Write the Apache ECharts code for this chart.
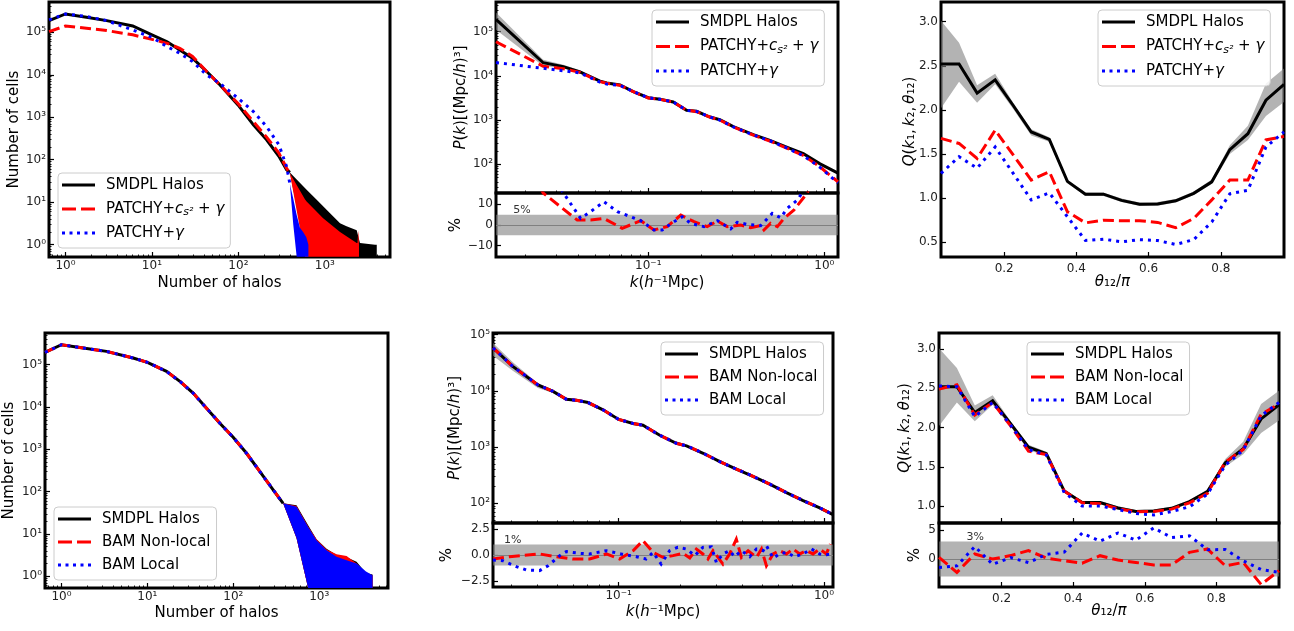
<!DOCTYPE html>
<html><head><meta charset="utf-8">
<script src="https://cdn.jsdelivr.net/npm/echarts@6/dist/echarts.min.js"></script>
<style>html,body{margin:0;padding:0;background:#fff}#c{width:1294px;height:631px}</style>
</head><body><div id="c"></div><script>
// ================= DATA =================
// --- Top-left: counts in cells (PATCHY) ---
const nHalosTL        = [0.647, 1, 1.75, 3, 6, 10, 15, 21, 29.5, 43, 61, 99, 149, 212, 294, 361, 394];
const cellsSMDPL_TL   = [1.88e5, 2.7e5, 2.25e5, 1.88e5, 1.41e5, 8.65e4, 6.0e4, 3.85e4, 2.45e4, 1.19e4, 5.8e3, 1.95e3, 660, 295, 120, 58, 50];
const cellsPatchyCs_TL= [1.04e5, 1.41e5, 1.24e5, 1.1e5, 8.7e4, 6.8e4, 5.5e4, 4.2e4, 2.7e4, 1.19e4, 5.8e3, 2.1e3, 790, 340, 143, 63, 48];
const cellsPatchy_TL  = [1.95e5, 2.7e5, 2.35e5, 1.88e5, 1.13e5, 7.6e4, 4.6e4, 3.2e4, 2.04e4, 9.9e3, 6.3e3, 2.8e3, 1.36e3, 600, 225, 69, 27];
// noisy tails (upper envelope / lower edge)
const tailN_SMDPL_TL  = [394, 615, 804, 1148, 1497, 1780, 2333, 2545, 3800, 3980];
const tailHi_SMDPL_TL = [50, 19.6, 11.4, 5.5, 3.2, 2.7, 2.2, 1.1, 1.0, 1.0];
const tailLo_SMDPL_TL = [50, 0.52, 0.52, 0.52, 0.52, 0.52, 0.52, 0.52, 0.52, 0.52];
const tailN_Cs_TL     = [394, 590, 615, 955, 1497, 2333, 2380, 2434, 2480];
const tailHi_Cs_TL    = [48, 11.5, 10.4, 4.2, 2.0, 1.1, 1.1, 2.2, 1.0];
const tailLo_Cs_TL    = [48, 0.52, 0.52, 0.52, 0.52, 0.52, 0.52, 0.52, 0.52];
const tailN_P_TL      = [394, 431, 472, 515, 560, 610, 645];
const tailHi_P_TL     = [27, 12, 5, 2.5, 2.0, 1.5, 1.0];
const tailLo_P_TL     = [27, 3, 0.52, 0.52, 0.52, 0.52, 0.52];

// --- Bottom-left: counts in cells (BAM) ---
const nHalosBL        = [0.645, 1, 1.79, 3.34, 6.83, 10, 16.7, 23.9, 34.1, 48.8, 69.7, 99.6, 142.6, 204, 291, 380];
const cellsSMDPL_BL   = [1.95e5, 2.97e5, 2.48e5, 2.07e5, 1.44e5, 1.14e5, 6.95e4, 4.03e4, 2.14e4, 9.4e3, 4.15e3, 1.93e3, 807, 297, 110, 53];
const cellsBamNL_BL   = [1.95e5, 2.97e5, 2.48e5, 2.07e5, 1.44e5, 1.14e5, 6.95e4, 4.03e4, 2.14e4, 9.4e3, 4.15e3, 1.93e3, 807, 297, 110, 53];
const cellsBamL_BL    = [1.95e5, 2.97e5, 2.48e5, 2.07e5, 1.44e5, 1.14e5, 6.95e4, 4.03e4, 2.14e4, 9.4e3, 4.15e3, 1.93e3, 807, 297, 110, 53];
const tailN_BL        = [380, 544, 743, 930, 1217, 1590, 2080, 2717, 3500, 4170];
const tailLo_BL       = [53, 8, 0.53, 0.53, 0.53, 0.53, 0.53, 0.53, 0.53, 0.53];
const tailHi_SMDPL_BL = [53, 48, 16, 7.5, 4.5, 3.2, 2.8, 2.2, 1.2, 1.1];
const tailHi_NL_BL    = [53, 46, 15, 7.5, 4.3, 3.3, 3.0, 2.0, 1.2, 1.06];
const tailHi_L_BL     = [53, 44, 14.7, 7.1, 4.1, 2.9, 2.4, 2.0, 1.3, 1.06];

// --- Top-middle: P(k) ---
const kTM            = [0.01365, 0.0253, 0.0329, 0.0409, 0.0532, 0.0581, 0.0691, 0.0822, 0.1, 0.1166, 0.1386, 0.165, 0.188, 0.224, 0.255, 0.304, 0.395, 0.491, 0.611, 0.76, 0.946, 1.196];
const pkSMDPL_TM     = [1.9e5, 1.98e4, 1.62e4, 1.23e4, 7.6e3, 6.9e3, 6.2e3, 4.4e3, 3.2e3, 2.95e3, 2.57e3, 1.66e3, 1.58e3, 1.17e3, 1.02e3, 710, 468, 347, 245, 174, 102, 63];
const pkPatchyCs_TM  = [5.9e4, 1.65e4, 1.45e4, 1.2e4, 7.4e3, 6.8e3, 6.1e3, 4.4e3, 3.15e3, 2.95e3, 2.55e3, 1.68e3, 1.55e3, 1.17e3, 1.0e3, 700, 455, 335, 232, 158, 87, 40];
const pkPatchy_TM    = [2.0e4, 1.48e4, 1.3e4, 1.17e4, 7.2e3, 6.5e3, 6.1e3, 4.4e3, 3.2e3, 2.95e3, 2.57e3, 1.66e3, 1.57e3, 1.17e3, 1.0e3, 700, 460, 340, 235, 156, 85, 38];
const kBandTM        = [0.01365, 0.0253, 0.0329, 0.0409, 0.0532, 0.0581, 0.0691];
const pkBandHi_TM    = [2.7e5, 2.3e4, 1.78e4, 1.33e4, 8.1e3, 7.3e3, 6.5e3];
const pkBandLo_TM    = [1.1e5, 1.66e4, 1.48e4, 1.13e4, 7.1e3, 6.5e3, 5.9e3];
const kResCs_TM      = [0.01365, 0.0253, 0.0395, 0.0471, 0.056, 0.0711, 0.0906, 0.1077, 0.128, 0.153, 0.182, 0.216, 0.247, 0.281, 0.335, 0.382, 0.435, 0.454, 0.495, 0.541, 0.59, 0.673, 0.80, 1.196];
const resCs_TM       = [60, 15.5, 2.4, 2.4, 3.2, -1.6, 2.1, -2.4, -0.8, 4.8, 1.6, -0.8, 1.9, -0.8, 0, -1.3, -0.3, -2.4, 0.8, -0.8, 3.2, 7.3, 15.5, 60];
const kResP_TM       = [0.01365, 0.0253, 0.0413, 0.0471, 0.056, 0.0667, 0.0794, 0.0906, 0.1077, 0.12, 0.14, 0.156, 0.174, 0.207, 0.247, 0.294, 0.32, 0.365, 0.435, 0.506, 0.565, 0.616, 0.703, 0.76, 1.196];
const resP_TM        = [100, 30, 3.2, 6.5, 11.3, 6.5, 4.0, 2.1, -2.4, -2.4, 1.6, 4.0, 0.8, -0.8, 2.1, -1.9, 1.3, 0.3, -0.3, 5.6, 3.5, 8.1, 12.1, 16.5, 60];

// --- Bottom-middle: P(k) ---
const kBM            = [0.02443, 0.0305, 0.0404, 0.0479, 0.0556, 0.0622, 0.0709, 0.0839, 0.1, 0.1175, 0.1313, 0.1585, 0.191, 0.214, 0.258, 0.311, 0.374, 0.451, 0.544, 0.656, 0.791, 0.953, 1.106];
const pkSMDPL_BM     = [5.8e4, 2.72e4, 1.28e4, 9.8e3, 7.1e3, 6.8e3, 6.2e3, 4.6e3, 3.1e3, 2.63e3, 2.45e3, 1.62e3, 1.17e3, 1.05e3, 776, 550, 407, 302, 219, 155, 112, 83, 63];
const pkBamNL_BM     = [5.8e4, 2.72e4, 1.28e4, 9.8e3, 7.1e3, 6.8e3, 6.2e3, 4.6e3, 3.1e3, 2.63e3, 2.45e3, 1.62e3, 1.17e3, 1.05e3, 776, 550, 407, 302, 219, 155, 112, 83, 63];
const pkBamL_BM      = [5.8e4, 2.72e4, 1.28e4, 9.8e3, 7.1e3, 6.8e3, 6.2e3, 4.6e3, 3.1e3, 2.63e3, 2.45e3, 1.62e3, 1.17e3, 1.05e3, 776, 550, 407, 302, 219, 155, 112, 83, 63];
const kBandBM        = [0.02443, 0.0305, 0.0404, 0.0479, 0.0556, 0.0622];
const pkBandHi_BM    = [7.1e4, 3.24e4, 1.37e4, 1.05e4, 7.5e3, 7.1e3];
const pkBandLo_BM    = [4.2e4, 2.29e4, 1.12e4, 9.2e3, 6.7e3, 6.5e3];
const kResNL_BM      = [0.02443, 0.0294, 0.0412, 0.0497, 0.0599, 0.0722, 0.0871, 0.101, 0.1175, 0.1313, 0.147, 0.164, 0.184, 0.206, 0.222, 0.239, 0.257, 0.272, 0.288, 0.322, 0.347, 0.374, 0.396, 0.427, 0.469, 0.496, 0.524, 0.565, 0.608, 0.656, 0.707, 0.762, 0.821, 0.884, 0.953, 1.026, 1.074];
const resNL_BM       = [-0.38, -0.16, 0.1, -0.16, -0.38, -0.38, 0.1, -0.38, 0.41, 1.37, 0.25, -0.22, -0.06, 0.16, -0.29, 0.57, 0.1, -0.38, 0.41, -0.86, 0.1, 1.52, -0.22, 0.41, -0.22, 0.57, -1.02, 0.1, 0.41, 0.1, 0.57, 0.1, 0.41, 0.1, 0.57, 0.1, 1.05];
const kResL_BM       = [0.0244, 0.0273, 0.0318, 0.0355, 0.0412, 0.0453, 0.0516, 0.0556, 0.0646, 0.0722, 0.0871, 0.103, 0.122, 0.136, 0.147, 0.161, 0.177, 0.194, 0.214, 0.235, 0.257, 0.283, 0.299, 0.322, 0.347, 0.367, 0.396, 0.435, 0.469, 0.505, 0.524, 0.565, 0.608, 0.656, 0.72, 0.791, 0.869, 0.953, 1.026, 1.106];
const resL_BM        = [-0.48, -0.54, -1.11, -1.43, -1.49, -1.02, -0.06, 0.32, 0.16, 0.1, 0.41, 0.1, -0.16, -0.38, 0.25, -0.86, 0.41, 0.73, 0.57, -0.06, 0.73, 0.79, -0.7, 0.1, 0.41, -0.16, 0.41, -0.16, 0.57, 0.41, 0.89, -0.29, 0.1, 0.25, -0.16, 0.1, 0.57, 0.1, 0.03, 0.1];

// --- Right column: reduced bispectrum Q ---
const theta12      = [0.025, 0.075, 0.125, 0.175, 0.225, 0.275, 0.325, 0.375, 0.425, 0.475, 0.525, 0.575, 0.625, 0.675, 0.725, 0.775, 0.825, 0.875, 0.925, 0.975];
const qSMDPL       = [2.52, 2.52, 2.19, 2.34, 2.05, 1.75, 1.665, 1.19, 1.045, 1.045, 0.975, 0.93, 0.935, 0.97, 1.055, 1.185, 1.55, 1.73, 2.11, 2.29];
const qSMDPLHi     = [3.01, 2.76, 2.28, 2.41, 2.08, 1.78, 1.69, 1.21, 1.065, 1.065, 0.995, 0.95, 0.955, 0.99, 1.075, 1.21, 1.60, 1.82, 2.30, 2.47];
const qSMDPLLo     = [2.02, 2.32, 2.08, 2.29, 2.01, 1.71, 1.64, 1.17, 1.025, 1.025, 0.955, 0.91, 0.915, 0.95, 1.035, 1.16, 1.50, 1.66, 1.93, 2.09];
const qPatchyCs    = [1.677, 1.62, 1.45, 1.77, 1.49, 1.205, 1.30, 0.846, 0.72, 0.75, 0.744, 0.744, 0.725, 0.665, 0.77, 0.98, 1.205, 1.205, 1.66, 1.70];
const qPatchy      = [1.28, 1.47, 1.34, 1.58, 1.28, 0.98, 1.06, 0.79, 0.52, 0.535, 0.505, 0.53, 0.52, 0.475, 0.53, 0.73, 1.05, 1.09, 1.58, 1.75];
const qBamNL       = [2.49, 2.545, 2.16, 2.32, 2.02, 1.70, 1.655, 1.19, 1.04, 1.03, 0.965, 0.925, 0.93, 0.96, 1.04, 1.16, 1.56, 1.72, 2.17, 2.30];
const qBamL        = [2.53, 2.52, 2.14, 2.32, 2.03, 1.72, 1.65, 1.17, 1.00, 1.00, 0.955, 0.905, 0.885, 0.93, 0.99, 1.15, 1.52, 1.71, 2.15, 2.32];
const resQBamNL    = [0.3, -2.3, 0.87, 0, 0.6, 1.45, 0.17, -0.3, -0.7, 0.58, -0.17, -0.58, -1.0, -1.0, 1.16, 1.74, -1.16, -0.58, -4.36, -2.0];
const resQBamL     = [-1.45, -1.16, 2.15, -0.9, 0.25, -0.6, 0.8, 1.2, 4.48, 3.08, 4.48, 3.25, 5.35, 3.7, 4.0, 1.6, 1.65, -0.3, -1.8, -2.3];

// --- tick values ---
const ticksCellsX = [1, 10, 100, 1000];
const ticksCellsY = [1, 10, 100, 1000, 1e4, 1e5];
const ticksKX     = [0.1, 1];
const ticksPkY    = [100, 1000, 1e4, 1e5];
const ticksThetaX = [0.2, 0.4, 0.6, 0.8];
const ticksQY_T   = [0.5, 1.0, 1.5, 2.0, 2.5, 3.0];
const ticksQY_B   = [1.0, 1.5, 2.0, 2.5, 3.0];
const ticksResTM  = [-10, 0, 10];
const ticksResBM  = [-2.5, 0, 2.5];
const ticksResBR  = [0, 5];

// ================= STYLE / HELPERS =================
const FONT = "'DejaVu Sans', sans-serif";
const BAND = 'rgba(128,128,128,0.6)';
const STY = {
  smdpl: {color: '#000000', width: 3, type: 'solid'},
  red:   {color: '#ff0000', width: 3, type: [11, 5]},
  blue:  {color: '#0000ff', width: 3, type: [3, 5]}
};
const SUP = {'-': '⁻', '0': '⁰', '1': '¹', '2': '²', '3': '³', '4': '⁴', '5': '⁵', '6': '⁶', '7': '⁷', '8': '⁸', '9': '⁹'};
function pow10Label(v) {
  const e = Math.round(Math.log10(v));
  return '10' + String(e).split('').map(c => SUP[c]).join('');
}
function minus(s) { return String(s).replace('-', '−'); }
function minorLog(min, max) {
  const out = [];
  for (let e = Math.floor(Math.log10(min)); e <= Math.ceil(Math.log10(max)); e++) {
    for (let m = 2; m <= 9; m++) { const v = m * Math.pow(10, e); if (v > min && v < max) out.push(v); }
  }
  return out;
}
const NAME_RICH = {i: {fontFamily: FONT, fontSize: 15, fontStyle: 'italic', color: '#000'}};

function axis(o) {
  const a = {
    type: o.type, gridIndex: o.grid, min: o.min, max: o.max, position: o.pos,
    axisLine: {show: false, onZero: false}, splitLine: {show: false},
    axisTick: {show: true, inside: true, length: o.tickLen || 5, customValues: o.ticks, lineStyle: {color: '#000', width: 1.2}},
    axisLabel: {show: !!o.fmt, customValues: o.ticks, formatter: o.fmt, fontFamily: FONT, fontSize: 12, color: '#222', margin: o.margin == null ? 4 : o.margin},
    nameMoveOverlap: false, silent: true
  };
  if (o.type === 'log') a.logBase = 10;
  if (o.name) {
    a.name = o.name; a.nameLocation = 'middle'; a.nameGap = o.gap;
    a.nameTextStyle = {fontFamily: FONT, fontSize: 15, color: '#000', rich: NAME_RICH};
    if (o.namePad) a.nameTextStyle.padding = o.namePad;
  }
  return a;
}
function minorAxis(type, grid, min, max, pos) {
  return {
    type: 'log', logBase: 10, gridIndex: grid, min: min, max: max, position: pos,
    axisLine: {show: false, onZero: false}, splitLine: {show: false}, axisLabel: {show: false},
    axisTick: {show: true, inside: true, length: 2.5, customValues: minorLog(min, max), lineStyle: {color: '#000', width: 0.9}},
    silent: true
  };
}
function line(name, xi, yi, xs, ys, sty, extra) {
  return Object.assign({
    type: 'line', name: name, xAxisIndex: xi, yAxisIndex: yi,
    data: xs.map((x, i) => [x, ys[i]]), symbol: 'none', showSymbol: false, smooth: false,
    lineStyle: Object.assign({cap: 'butt', join: 'miter'}, sty),
    itemStyle: {color: sty.color}, color: sty.color, z: 3, clip: true, silent: true,
    emphasis: {disabled: true}, animation: false
  }, extra || {});
}
function band(xi, yi, xs, lo, hi, color, z) {
  return {
    type: 'custom', xAxisIndex: xi, yAxisIndex: yi, z: z || 2, silent: true, animation: false,
    data: xs.map((x, i) => [x, lo[i], hi[i]]),
    encode: {x: 0, y: [1, 2]},
    renderItem: function (params, api) {
      if (params.dataIndexInside !== 0) return null;
      const n = params.dataInsideLength;
      const top = [], bot = [];
      for (let i = 0; i < n; i++) {
        const x = api.value(0, i);
        top.push(api.coord([x, api.value(2, i)]));
        bot.push(api.coord([x, api.value(1, i)]));
      }
      return {type: 'polygon', shape: {points: top.concat(bot.reverse())}, style: {fill: color}};
    }
  };
}
function resDecor(lim, labelCoord, labelText) {
  return {
    markArea: {silent: true, z: 1, itemStyle: {color: BAND}, data: [[{yAxis: -lim}, {yAxis: lim}]]},
    markLine: {silent: true, z: 2, symbol: ['none', 'none'], label: {show: false},
      lineStyle: {color: '#808080', width: 1.2, type: 'solid'}, data: [{yAxis: 0}]},
    markPoint: {silent: true, symbol: 'rect', symbolSize: [1, 1], itemStyle: {color: 'rgba(0,0,0,0)'},
      label: {show: true, position: 'inside', formatter: labelText, fontFamily: FONT, fontSize: 11, color: '#333'},
      data: [{coord: labelCoord}]}
  };
}

// icons for legend (solid / dashed / dotted samples)
const ICON_SOLID  = 'path://M0 0H33V3H0Z';
const ICON_DASHED = 'path://M0 0H14V3H0Z M19 0H33V3H19Z';
const ICON_DOTTED = 'path://M0 0H3V3H0Z M7.5 0H10.5V3H7.5Z M15 0H18V3H15Z M22.5 0H25.5V3H22.5Z M30 0H33V3H30Z';
const LEGEND_ITEMS = {
  'SMDPL Halos':   {icon: ICON_SOLID,  color: '#000000'},
  'PATCHY+cs2+γ':  {icon: ICON_DASHED, color: '#ff0000'},
  'PATCHY+γ':      {icon: ICON_DOTTED, color: '#0000ff'},
  'BAM Non-local': {icon: ICON_DASHED, color: '#ff0000'},
  'BAM Local':     {icon: ICON_DOTTED, color: '#0000ff'}
};
function legendFmt(name) {
  if (name === 'PATCHY+cs2+γ') return 'PATCHY+{i|c}{s|s²} + {i|γ}';
  if (name === 'PATCHY+γ') return 'PATCHY+{i|γ}';
  return name;
}
function legend(left, top, names, gap) {
  return {
    orient: 'vertical', left: left, top: top, selectedMode: false, z: 10,
    data: names.map(n => ({name: n, icon: LEGEND_ITEMS[n].icon, itemStyle: {color: LEGEND_ITEMS[n].color, borderWidth: 0}})),
    itemWidth: 33, itemHeight: 3, itemGap: gap,
    padding: [3, 6, 6, 4], borderColor: '#cccccc', borderWidth: 1, borderRadius: 4,
    backgroundColor: 'rgba(255,255,255,0.85)',
    itemStyle: {borderWidth: 0},
    textStyle: {fontFamily: FONT, fontSize: 15, color: '#000', lineHeight: 18, padding: [0, 0, 0, 6],
      rich: {
        i: {fontFamily: FONT, fontSize: 15, fontStyle: 'italic', color: '#000'},
        s: {fontFamily: FONT, fontSize: 11, fontStyle: 'italic', color: '#000', verticalAlign: 'bottom'}
      }},
    formatter: legendFmt
  };
}

// ================= LAYOUT =================
const G = [
  {left: 49,  top: 2,   width: 341, height: 255}, // 0 TL
  {left: 496, top: 2,   width: 342, height: 191}, // 1 TM main
  {left: 496, top: 193, width: 342, height: 64},  // 2 TM residual
  {left: 941, top: 2,   width: 343, height: 255}, // 3 TR
  {left: 45,  top: 333, width: 343, height: 255}, // 4 BL
  {left: 493, top: 333, width: 340, height: 190}, // 5 BM main
  {left: 493, top: 523, width: 340, height: 64},  // 6 BM residual
  {left: 939, top: 333, width: 340, height: 190}, // 7 BR main
  {left: 939, top: 523, width: 340, height: 64}   // 8 BR residual
].map(g => Object.assign({show: true, borderColor: '#000', borderWidth: 3, backgroundColor: 'transparent', containLabel: false, outerBoundsMode: 'none'}, g));

const R = {
  x0: [0.6457, 5662], y0: [0.513, 5.16e5],
  xk1: [0.01365, 1.196], y1: [22.4, 4.68e5], y2: [-15.5, 15.5],
  xq: [0.025, 0.975], y3: [0.333, 3.223],
  x4: [0.644, 6310], y4: [0.528, 5.62e5],
  xk2: [0.02443, 1.106], y5: [44.6, 1.07e5], y6: [-3.05, 3.05],
  y7: [0.783, 3.205], y8: [-4.8, 6.2]
};
const fix1 = v => minus(v.toFixed(1));
const fixI = v => minus(String(v));
const Q_NAME = '{i|Q}({i|k}₁,\u2009{i|k}₂,\u2009{i|θ}₁₂)';

const xAxis = [
  axis({type: 'log', grid: 0, min: R.x0[0], max: R.x0[1], pos: 'bottom', ticks: ticksCellsX, fmt: pow10Label, margin: 3, name: 'Number of halos', gap: 19}),
  axis({type: 'log', grid: 1, min: R.xk1[0], max: R.xk1[1], pos: 'bottom', ticks: ticksKX}),
  axis({type: 'log', grid: 2, min: R.xk1[0], max: R.xk1[1], pos: 'bottom', ticks: ticksKX, fmt: pow10Label, margin: 3, name: '{i|k}({i|h}⁻¹Mpc)', gap: 19}),
  axis({type: 'value', grid: 3, min: R.xq[0], max: R.xq[1], pos: 'bottom', ticks: ticksThetaX, fmt: fix1, margin: 6, name: '{i|θ}₁₂/{i|π}', gap: 18}),
  axis({type: 'log', grid: 4, min: R.x4[0], max: R.x4[1], pos: 'bottom', ticks: ticksCellsX, fmt: pow10Label, margin: 3, name: 'Number of halos', gap: 18}),
  axis({type: 'log', grid: 5, min: R.xk2[0], max: R.xk2[1], pos: 'bottom', ticks: ticksKX}),
  axis({type: 'log', grid: 6, min: R.xk2[0], max: R.xk2[1], pos: 'bottom', ticks: ticksKX, fmt: pow10Label, margin: 3, name: '{i|k}({i|h}⁻¹Mpc)', gap: 18}),
  axis({type: 'value', grid: 7, min: R.xq[0], max: R.xq[1], pos: 'bottom', ticks: ticksThetaX}),
  axis({type: 'value', grid: 8, min: R.xq[0], max: R.xq[1], pos: 'bottom', ticks: ticksThetaX, fmt: fix1, margin: 6, name: '{i|θ}₁₂/{i|π}', gap: 17}),
  minorAxis('x', 0, R.x0[0], R.x0[1], 'bottom'),
  minorAxis('x', 1, R.xk1[0], R.xk1[1], 'bottom'),
  minorAxis('x', 2, R.xk1[0], R.xk1[1], 'bottom'),
  minorAxis('x', 4, R.x4[0], R.x4[1], 'bottom'),
  minorAxis('x', 5, R.xk2[0], R.xk2[1], 'bottom'),
  minorAxis('x', 6, R.xk2[0], R.xk2[1], 'bottom')
];
const yAxis = [
  axis({type: 'log', grid: 0, min: R.y0[0], max: R.y0[1], pos: 'left', ticks: ticksCellsY, fmt: pow10Label, margin: 3, name: 'Number of cells', gap: 27}),
  axis({type: 'log', grid: 1, min: R.y1[0], max: R.y1[1], pos: 'left', ticks: ticksPkY, fmt: pow10Label, margin: 3, name: '{i|P}({i|k})[(Mpc/{i|h})³]', gap: 27}),
  axis({type: 'value', grid: 2, min: R.y2[0], max: R.y2[1], pos: 'left', ticks: ticksResTM, fmt: fixI, margin: 3, name: '%', gap: 32}),
  axis({type: 'value', grid: 3, min: R.y3[0], max: R.y3[1], pos: 'left', ticks: ticksQY_T, fmt: fix1, margin: 3, name: Q_NAME, gap: 23, namePad: [0, 0, 0, 16]}),
  axis({type: 'log', grid: 4, min: R.y4[0], max: R.y4[1], pos: 'left', ticks: ticksCellsY, fmt: pow10Label, margin: 3, name: 'Number of cells', gap: 28}),
  axis({type: 'log', grid: 5, min: R.y5[0], max: R.y5[1], pos: 'left', ticks: ticksPkY, fmt: pow10Label, margin: 3, name: '{i|P}({i|k})[(Mpc/{i|h})³]', gap: 30}),
  axis({type: 'value', grid: 6, min: R.y6[0], max: R.y6[1], pos: 'left', ticks: ticksResBM, fmt: fix1, margin: 3, name: '%', gap: 38}),
  axis({type: 'value', grid: 7, min: R.y7[0], max: R.y7[1], pos: 'left', ticks: ticksQY_B, fmt: fix1, margin: 3, name: Q_NAME, gap: 26}),
  axis({type: 'value', grid: 8, min: R.y8[0], max: R.y8[1], pos: 'left', ticks: ticksResBR, fmt: fixI, margin: 3, name: '%', gap: 16}),
  minorAxis('y', 0, R.y0[0], R.y0[1], 'left'),
  minorAxis('y', 1, R.y1[0], R.y1[1], 'left'),
  minorAxis('y', 4, R.y4[0], R.y4[1], 'left'),
  minorAxis('y', 5, R.y5[0], R.y5[1], 'left')
];

const series = [
  // ---- TL ----
  band(0, 0, tailN_SMDPL_TL, tailLo_SMDPL_TL, tailHi_SMDPL_TL, '#000000', 2),
  band(0, 0, tailN_Cs_TL, tailLo_Cs_TL, tailHi_Cs_TL, '#ff0000', 2),
  band(0, 0, tailN_P_TL, tailLo_P_TL, tailHi_P_TL, '#0000ff', 2),
  line('SMDPL Halos', 0, 0, nHalosTL, cellsSMDPL_TL, STY.smdpl),
  line('PATCHY+cs2+γ', 0, 0, nHalosTL, cellsPatchyCs_TL, STY.red),
  line('PATCHY+γ', 0, 0, nHalosTL, cellsPatchy_TL, STY.blue),
  // ---- TM ----
  band(1, 1, kBandTM, pkBandLo_TM, pkBandHi_TM, BAND, 1),
  line('SMDPL Halos', 1, 1, kTM, pkSMDPL_TM, STY.smdpl),
  line('PATCHY+cs2+γ', 1, 1, kTM, pkPatchyCs_TM, STY.red),
  line('PATCHY+γ', 1, 1, kTM, pkPatchy_TM, STY.blue),
  line('res-cs', 2, 2, kResCs_TM, resCs_TM, STY.red, resDecor(5, [0.01916, 7.3], '5%')),
  line('res-p', 2, 2, kResP_TM, resP_TM, STY.blue),
  // ---- TR ----
  band(3, 3, theta12, qSMDPLLo, qSMDPLHi, BAND, 1),
  line('SMDPL Halos', 3, 3, theta12, qSMDPL, STY.smdpl),
  line('PATCHY+cs2+γ', 3, 3, theta12, qPatchyCs, STY.red),
  line('PATCHY+γ', 3, 3, theta12, qPatchy, STY.blue),
  // ---- BL ----
  band(4, 4, tailN_BL, tailLo_BL, tailHi_SMDPL_BL, '#000000', 2),
  band(4, 4, tailN_BL, tailLo_BL, tailHi_NL_BL, '#ff0000', 2),
  band(4, 4, tailN_BL, tailLo_BL, tailHi_L_BL, '#0000ff', 2),
  line('SMDPL Halos', 4, 4, nHalosBL, cellsSMDPL_BL, STY.smdpl),
  line('BAM Non-local', 4, 4, nHalosBL, cellsBamNL_BL, STY.red),
  line('BAM Local', 4, 4, nHalosBL, cellsBamL_BL, STY.blue),
  // ---- BM ----
  band(5, 5, kBandBM, pkBandLo_BM, pkBandHi_BM, BAND, 1),
  line('SMDPL Halos', 5, 5, kBM, pkSMDPL_BM, STY.smdpl),
  line('BAM Non-local', 5, 5, kBM, pkBamNL_BM, STY.red),
  line('BAM Local', 5, 5, kBM, pkBamL_BM, STY.blue),
  line('res-nl', 6, 6, kResNL_BM, resNL_BM, STY.red, resDecor(1, [0.0305, 1.46], '1%')),
  line('res-l', 6, 6, kResL_BM, resL_BM, STY.blue),
  // ---- BR ----
  band(7, 7, theta12, qSMDPLLo, qSMDPLHi, BAND, 1),
  line('SMDPL Halos', 7, 7, theta12, qSMDPL, STY.smdpl),
  line('BAM Non-local', 7, 7, theta12, qBamNL, STY.red),
  line('BAM Local', 7, 7, theta12, qBamL, STY.blue),
  line('res-qnl', 8, 8, theta12, resQBamNL, STY.red, resDecor(3, [0.126, 3.74], '3%')),
  line('res-ql', 8, 8, theta12, resQBamL, STY.blue)
];

const option = {
  animation: false,
  backgroundColor: '#ffffff',
  textStyle: {fontFamily: FONT},
  grid: G, xAxis: xAxis, yAxis: yAxis, series: series,
  legend: [
    legend(58, 173, ['SMDPL Halos', 'PATCHY+cs2+γ', 'PATCHY+γ'], 6),
    legend(652, 10, ['SMDPL Halos', 'PATCHY+cs2+γ', 'PATCHY+γ'], 6.5),
    legend(1098, 10, ['SMDPL Halos', 'PATCHY+cs2+γ', 'PATCHY+γ'], 6.5),
    legend(54, 507, ['SMDPL Halos', 'BAM Non-local', 'BAM Local'], 5),
    legend(661, 342, ['SMDPL Halos', 'BAM Non-local', 'BAM Local'], 5),
    legend(1027, 342, ['SMDPL Halos', 'BAM Non-local', 'BAM Local'], 5)
  ]
};
const chart = echarts.init(document.getElementById('c'), null, {renderer: 'canvas', width: 1294, height: 631});
chart.setOption(option);
</script></body></html>
